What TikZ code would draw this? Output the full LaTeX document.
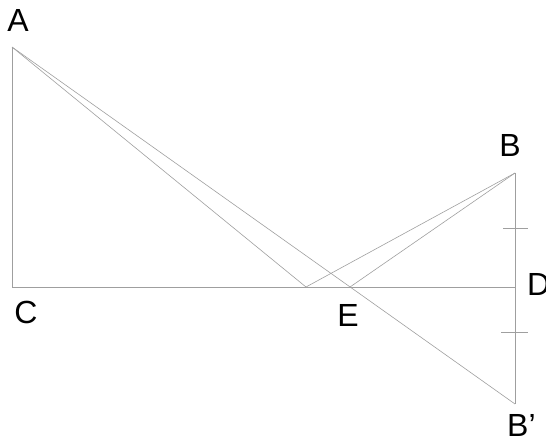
\documentclass[tikz,border=0pt]{standalone}
\usepackage{fontspec}
\setmainfont{Liberation Sans}
\begin{document}
\begin{tikzpicture}[x=1pt,y=-1pt,
  ln/.style={draw=gray!75, line width=0.6pt},
  lbl/.style={font=\fontsize{32}{36}\selectfont, inner sep=0pt}]
\useasboundingbox (0,0) rectangle (546,440);
\coordinate (A) at (12,47);
\coordinate (C) at (12,287);
\coordinate (D) at (515,287);
\coordinate (B) at (515,173);
\coordinate (Bp) at (515,404);
\coordinate (E) at (350,287);
\coordinate (F) at (306,287);
\coordinate (T1a) at (503,228);
\coordinate (T1b) at (528,228);
\coordinate (T2a) at (501,332);
\coordinate (T2b) at (528,332);
\draw[ln] (A) -- (C) -- (D);
\draw[ln] (B) -- (Bp);
\draw[ln] (A) -- (F) -- (B);
\draw[ln] (A) -- (Bp);
\draw[ln] (E) -- (B);
\draw[ln] (T1a) -- (T1b);
\draw[ln] (T2a) -- (T2b);
\node[lbl] (lA) at (18,20) {A};
\node[lbl] (lC) at (26,312) {C};
\node[lbl] (lB) at (510,145) {B};
\node[lbl] (lE) at (348,315) {E};
\node[lbl, anchor=west] (lD) at (527,284) {D};
\node[lbl, anchor=west] (lBp) at (507,425) {B’};
\end{tikzpicture}
\end{document}
